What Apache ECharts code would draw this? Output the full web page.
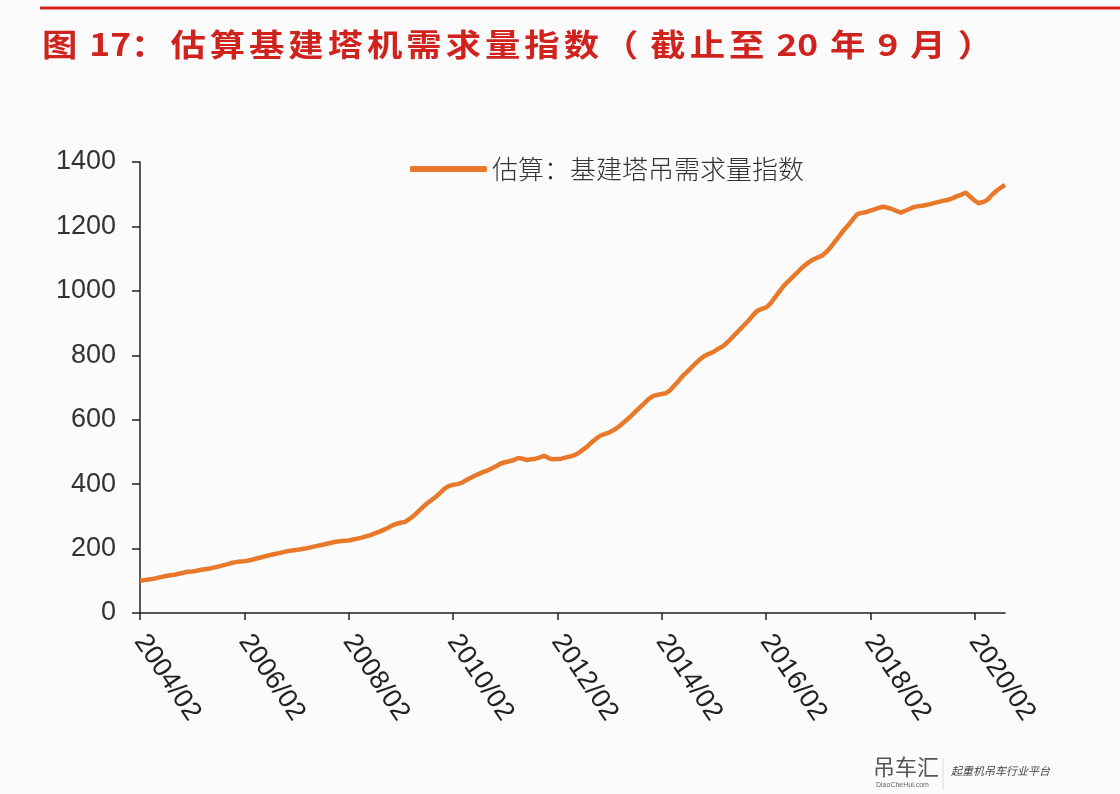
<!DOCTYPE html>
<html>
<head>
<meta charset="utf-8">
<script src="https://cdn.jsdelivr.net/npm/echarts@6/dist/echarts.min.js"></script>
<style>
html,body{margin:0;padding:0;background:#FBFBFC;}
#c{width:1120px;height:794px;}
</style>
</head>
<body>
<div id="c"></div>
<script>
// ---- data ----
var titleParts = ['图', ' 17：', '估','算','基','建','塔','机','需','求','量','指','数', '（ ', '截','止','至', ' 20 ', '年', ' 9 ', '月', ' ）'];
var seriesName = '估算：基建塔吊需求量指数';
var startYear = 2004, startMonth = 2, monthCount = 200; // 2004/02 .. 2020/09
var categories = [];
for (var k = 0; k < monthCount; k++) {
  var m = startMonth - 1 + k;
  var y = startYear + Math.floor(m / 12);
  var mm = (m % 12) + 1;
  categories.push(y + '/' + (mm < 10 ? '0' + mm : mm));
}
var indexValues = [
  100,102,104,106,109,112,115,117,119,122,125,128,129,131,134,136,138,141,144,148,
  151,155,158,160,161,163,166,170,173,177,180,183,186,189,192,194,196,198,200,203,
  206,209,212,215,218,221,223,224,225,228,231,234,238,242,247,252,258,264,272,277,
  280,283,292,302,315,328,340,350,360,372,385,394,398,400,404,412,419,426,432,438,
  443,449,456,464,468,471,475,481,479,475,477,479,483,488,481,477,478,479,483,486,
  490,498,508,518,531,542,551,556,561,568,577,588,600,612,625,638,651,664,673,677,
  680,682,692,707,722,738,750,764,777,790,799,805,811,820,827,838,852,866,880,894,
  908,924,938,944,948,960,978,996,1014,1028,1041,1054,1068,1080,1090,1098,1104,1110,1122,1137,
  1155,1172,1190,1205,1222,1238,1242,1244,1249,1253,1258,1261,1258,1254,1248,1243,1248,1254,1260,1263,
  1264,1267,1270,1274,1277,1280,1283,1288,1294,1299,1305,1292,1280,1272,1276,1283,1298,1310,1320,1329
];
var yMin = 0, yMax = 1400, yInterval = 200;
var xLabelEvery = 24;

var RED = '#D0231E';
var ORANGE = '#E8792A';
var NUMFONT = "'Liberation Sans',Arial,sans-serif";
var CJK = "'Noto Sans CJK SC',sans-serif";

// title built piece by piece (wide letter pitch like the reference)
var titleSize = 31, titleScale = 1.14, gap = 3.5;
var titleEls = [];
var cx = 0;
var measureCanvas = document.createElement('canvas').getContext('2d');
measureCanvas.font = 'bold ' + titleSize + 'px ' + CJK;
titleParts.forEach(function (p) {
  titleEls.push({type: 'text', x: cx, y: 0, style: {text: p, fontSize: titleSize, fontWeight: 'bold', fill: RED, fontFamily: CJK, verticalAlign: 'middle'}});
  cx += measureCanvas.measureText(p).width + gap;
});

var chart = echarts.init(document.getElementById('c'), null, {renderer: 'canvas'});
chart.setOption({
  backgroundColor: '#FBFBFC',
  animation: false,
  graphic: [
    {type: 'line', shape: {x1: 40, y1: 8, x2: 1120, y2: 8}, style: {stroke: RED, lineWidth: 3}},
    {type: 'group', x: 42, y: 44, scaleX: titleScale, children: titleEls},
    {type: 'text', left: 873, top: 756, style: {text: '吊车汇', fontSize: 22, fill: '#555', fontFamily: CJK}},
    {type: 'text', left: 876, top: 782, style: {text: 'DiaoCheHui.com', fontSize: 7, fill: '#666', fontFamily: NUMFONT}},
    {type: 'line', shape: {x1: 943, y1: 758, x2: 943, y2: 790}, style: {stroke: '#ddd', lineWidth: 1}},
    {type: 'text', left: 951, top: 765, style: {text: '起重机吊车行业平台', fontSize: 11, fontStyle: 'italic', fill: '#444', fontFamily: CJK}}
  ],
  legend: {
    data: [seriesName],
    left: 405, top: 151,
    icon: 'roundRect',
    itemWidth: 77, itemHeight: 6,
    textStyle: {fontSize: 26, color: '#333', fontWeight: 300, fontFamily: CJK}
  },
  grid: {left: 140, right: 115, top: 162, bottom: 181, containLabel: false},
  xAxis: {
    type: 'category',
    data: categories,
    boundaryGap: false,
    axisLine: {lineStyle: {color: '#222', width: 1.5}},
    axisTick: {show: true, interval: xLabelEvery - 1, length: 7, lineStyle: {color: '#222', width: 1.5}},
    axisLabel: {
      interval: xLabelEvery - 1, rotate: -56, margin: 24,
      fontSize: 27, color: '#222', fontFamily: NUMFONT
    },
    splitLine: {show: false}
  },
  yAxis: {
    type: 'value',
    min: yMin, max: yMax, interval: yInterval,
    axisLine: {show: true, lineStyle: {color: '#222', width: 1.5}},
    axisTick: {show: true, length: 8, lineStyle: {color: '#222', width: 1.5}},
    axisLabel: {fontSize: 27, color: '#333', margin: 24, fontFamily: NUMFONT,
      formatter: function (v) { return String(v); }},
    splitLine: {show: false}
  },
  series: [{
    name: seriesName,
    type: 'line',
    data: indexValues,
    symbol: 'none',
    smooth: false,
    lineStyle: {color: ORANGE, width: 4.5},
    itemStyle: {color: ORANGE}
  }]
});
</script>
</body>
</html>
